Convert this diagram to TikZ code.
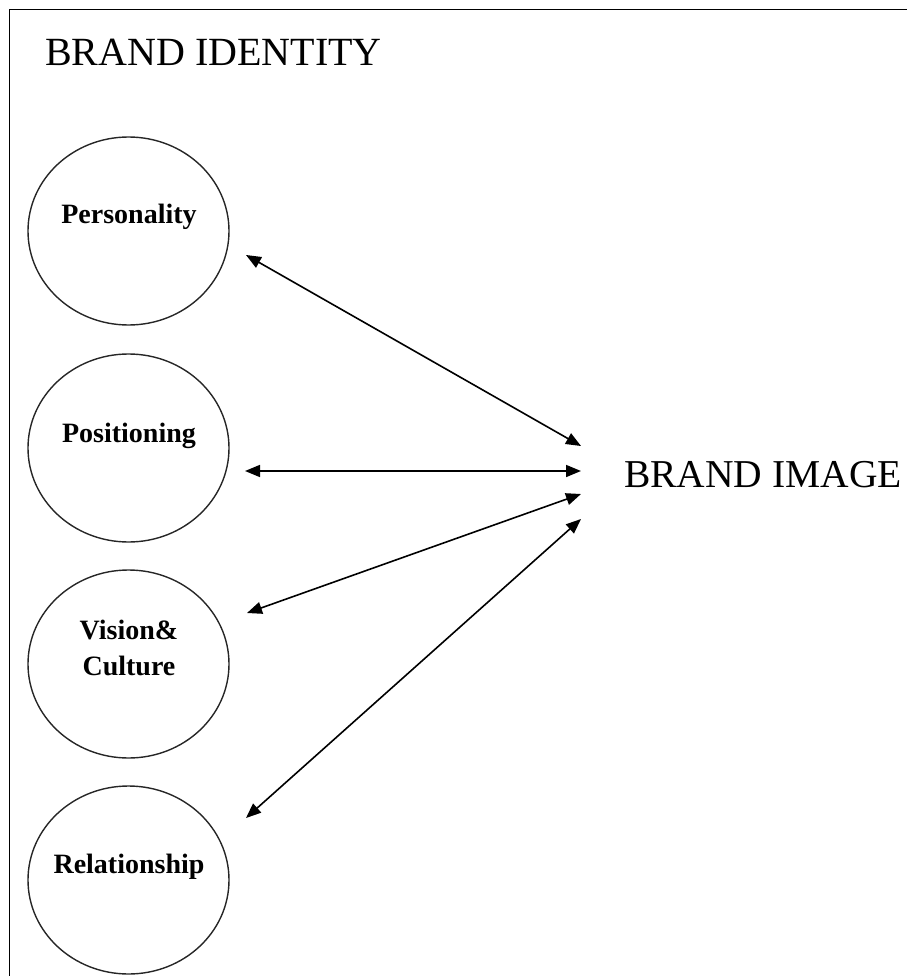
\documentclass[tikz,border=0pt]{standalone}
\usepackage{fontspec}
\setmainfont{Liberation Serif}
\usetikzlibrary{arrows.meta,shapes.geometric}
\begin{document}
\begin{tikzpicture}[x=1pt,y=-1pt,
  facet/.style={draw=black!85,line width=1.4pt,ellipse,minimum width=201pt,minimum height=188pt,inner sep=0pt},
  facetlabel/.style={font=\fontsize{28}{36}\selectfont\bfseries,align=center,inner sep=0pt},
  heading/.style={font=\fontsize{40}{44}\selectfont,inner sep=0pt,anchor=base west},
  link/.style={line width=1.6pt,{Triangle[length=15pt,width=12pt]}-{Triangle[length=15pt,width=12pt]}}]
  \useasboundingbox (0,0) rectangle (906,976);
  % open frame: top and left edges
  \draw[line width=1.6pt] (9.5,980) -- (9.5,9.5) -- (910,9.5);

  \node[heading] (identity) at (45,66) {BRAND IDENTITY};
  \node[heading,font=\fontsize{39.5}{44}\selectfont] (image) at (624,487) {BRAND IMAGE};

  % the four facets of identity
  \node[facet] (pers) at (128.5,231) {};
  \node[facet] (posi) at (128.5,448) {};
  \node[facet] (visi) at (128.5,664) {};
  \node[facet] (rela) at (128.5,880) {};

  \node[facetlabel] (perslabel) at (129,217) {Personality};
  \node[facetlabel] (posilabel) at (129,436) {Positioning};
  \node[facetlabel] (visilabel) at (129,648) {Vision\&\\Culture};
  \node[facetlabel] (relalabel) at (129,867) {Relationship};

  % arrow ends beside each facet and beside the image label
  \coordinate (persend) at (246,255);
  \coordinate (posiend) at (245,471);
  \coordinate (visiend) at (247,613);
  \coordinate (relaend) at (246,818);
  \coordinate (img1) at (581,446);
  \coordinate (img2) at (581,471);
  \coordinate (img3) at (581,494);
  \coordinate (img4) at (581,519);

  \draw[link] (persend) -- (img1);
  \draw[link] (posiend) -- (img2);
  \draw[link] (visiend) -- (img3);
  \draw[link] (relaend) -- (img4);
\end{tikzpicture}
\end{document}
